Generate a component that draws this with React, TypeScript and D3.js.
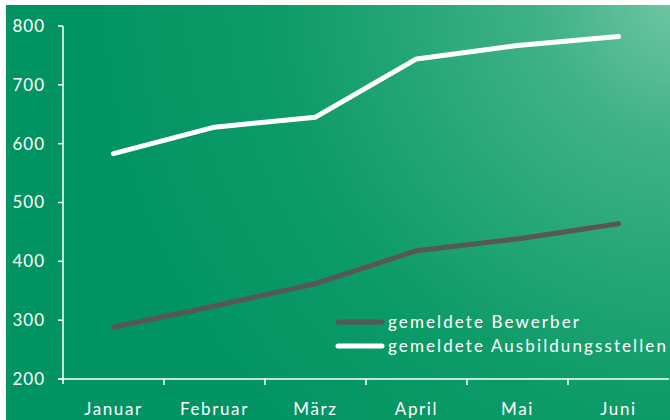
import React from "react";
import * as d3 from "d3";

const months = ["Januar", "Februar", "März", "April", "Mai", "Juni"];
const bewerber = [288, 324, 362, 418, 438, 464];
const stellen = [583, 628, 645, 744, 767, 782];
const yTicks = [200, 300, 400, 500, 600, 700, 800];
const seriesNames = ["gemeldete Bewerber", "gemeldete Ausbildungsstellen"];

export default function App() {
  const W = 670, H = 420;
  const left = 63, right = 669, top = 26, bottom = 379;
  const x = d3.scaleBand<string>().domain(months).range([left, right]);
  const y = d3.scaleLinear().domain([200, 800]).range([bottom, top]);
  const line = d3
    .line<number>()
    .x((_, i) => (x(months[i]) as number) + x.bandwidth() / 2)
    .y((d) => y(d));
  const font = "Lato, 'Open Sans', sans-serif";
  return (
    <svg
      width={W}
      height={H}
      style={{ position: "absolute", left: 0, top: 0, display: "block" }}
    >
      <defs>
        <radialGradient id="bg" gradientUnits="userSpaceOnUse" cx={690} cy={-10} r={600}>
          <stop offset="0" stopColor="#74c8a6" />
          <stop offset="0.25" stopColor="#40b288" />
          <stop offset="0.5" stopColor="#22a574" />
          <stop offset="0.7" stopColor="#0d9b68" />
          <stop offset="1" stopColor="#019462" />
        </radialGradient>
      </defs>
      <rect x={0} y={0} width={W} height={H} fill="#ffffff" />
      <rect x={6} y={5} width={W - 6} height={H - 5} fill="url(#bg)" />
      {/* y axis */}
      <line x1={left} x2={left} y1={top} y2={bottom + 5} stroke="#fff" strokeWidth={1.5} />
      {yTicks.map((t) => (
        <g key={t}>
          <line x1={left - 5} x2={left} y1={y(t)} y2={y(t)} stroke="#fff" strokeWidth={1.5} />
          <text
            x={left - 18}
            y={y(t)}
            dy="0.35em"
            textAnchor="end"
            fill="#fff"
            fontFamily={font}
            fontSize={17}
            letterSpacing={1}
          >
            {t}
          </text>
        </g>
      ))}
      {/* x axis */}
      <line x1={left - 5} x2={right} y1={bottom} y2={bottom} stroke="#fff" strokeWidth={1.5} />
      {months.map((m, i) => (
        <g key={m}>
          {i > 0 && (
            <line
              x1={x(m) as number}
              x2={x(m) as number}
              y1={bottom}
              y2={bottom + 6}
              stroke="#fff"
              strokeWidth={1.5}
            />
          )}
          <text
            x={(x(m) as number) + x.bandwidth() / 2}
            y={bottom + 36}
            textAnchor="middle"
            fill="#fff"
            fontFamily={font}
            fontSize={17}
            letterSpacing={1.6}
          >
            {m}
          </text>
        </g>
      ))}
      <path d={line(bewerber) || ""} fill="none" stroke="#575757" strokeWidth={5} strokeLinecap="round" strokeLinejoin="round" />
      <path d={line(stellen) || ""} fill="none" stroke="#ffffff" strokeWidth={5} strokeLinecap="round" strokeLinejoin="round" />
      {/* legend */}
      {seriesNames.map((n, i) => (
        <g key={n} transform={`translate(338, ${322 + i * 24})`}>
          <line x1={0} x2={44} y1={0} y2={0} stroke={i === 0 ? "#575757" : "#fff"} strokeWidth={5} strokeLinecap="round" />
          <text x={50} y={0} dy="0.35em" fill="#fff" fontFamily={font} fontSize={17} letterSpacing={2.1}>
            {n}
          </text>
        </g>
      ))}
    </svg>
  );
}
